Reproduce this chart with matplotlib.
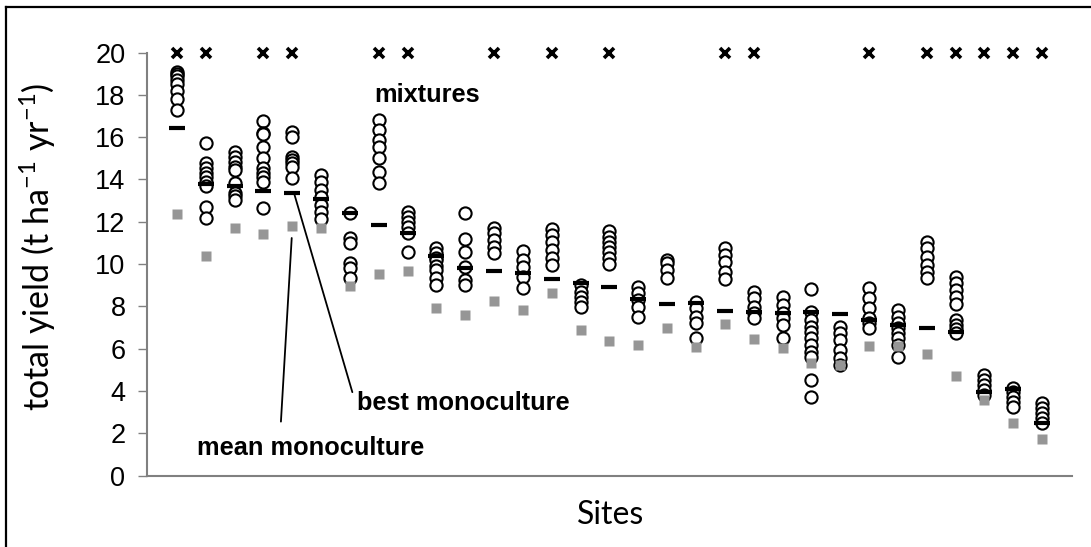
import matplotlib
matplotlib.use("Agg")
import matplotlib.pyplot as plt
from matplotlib.lines import Line2D

# site-level values (t ha-1 yr-1)
best_mono = [16.45, 13.78, 13.70, 13.45, 13.37, 13.07, 12.40, 11.84, 11.45, 10.38,
             9.80, 9.68, 9.59, 9.28, 9.09, 8.93, 8.33, 8.12, 8.15, 7.79,
             7.72, 7.70, 7.75, 7.62, 7.35, 7.12, 6.99, 6.80, 3.96, 4.07, 2.50]
mean_mono = [12.36, 10.38, 11.72, 11.42, 11.80, 11.72, 8.96, 9.53, 9.68, 7.90,
             7.59, 8.25, 7.82, 8.61, 6.88, 6.37, 6.17, 6.96, 6.06, 7.16,
             6.47, 6.03, 5.33, 5.22, 6.14, 6.14, 5.74, 4.72, 3.57, 2.47, 1.73]
mixtures = [
    [19.1, 19.0, 18.9, 18.7, 18.5, 18.2, 17.8, 17.3],
    [15.74, 14.76, 14.52, 14.3, 14.13, 13.89, 13.69, 12.71, 12.16],
    [15.31, 15.07, 14.83, 14.6, 14.44, 13.82, 13.37, 13.23, 13.03],
    [16.78, 16.2, 16.15, 15.55, 15.0, 14.52, 14.3, 14.13, 13.89, 12.63],
    [16.26, 16.02, 15.07, 14.92, 14.76, 14.6, 14.05],
    [14.21, 13.89, 13.5, 13.18, 12.79, 12.47, 12.11],
    [12.40, 11.22, 10.98, 10.03, 9.80, 9.32],
    [16.81, 16.34, 15.86, 15.55, 15.0, 14.36, 13.82],
    [12.47, 12.24, 12.0, 11.76, 11.45, 10.58],
    [10.74, 10.5, 10.3, 10.19, 9.9, 9.72, 9.32, 9.0],
    [12.40, 11.17, 10.58, 9.87, 9.24, 9.0],
    [11.69, 11.45, 11.13, 10.82, 10.5],
    [10.63, 10.19, 9.87, 9.40, 8.85],
    [11.64, 11.37, 11.05, 10.66, 10.27, 9.95],
    [9.0, 8.69, 8.45, 8.22, 7.98],
    [11.55, 11.3, 11.05, 10.8, 10.55, 10.3, 10.0],
    [8.93, 8.61, 8.3, 7.98, 7.51],
    [10.19, 10.03, 9.72, 9.32],
    [8.22, 7.90, 7.51, 7.2, 6.49],
    [10.74, 10.43, 10.11, 9.64, 9.28],
    [8.69, 8.38, 7.98, 7.67, 7.43],
    [8.45, 8.06, 7.67, 7.43, 7.12, 6.49],
    [8.80, 7.74, 7.35, 7.04, 6.80, 6.49, 6.17, 5.85, 5.62, 4.52, 3.73],
    [7.04, 6.72, 6.41, 5.93, 5.54, 5.22],
    [8.85, 8.38, 7.90, 7.43, 7.2, 6.96],
    [7.82, 7.51, 7.2, 6.96, 6.72, 6.49, 6.17, 5.62],
    [11.05, 10.74, 10.35, 9.95, 9.64, 9.32],
    [9.40, 9.09, 8.77, 8.45, 8.11, 7.35, 7.12, 6.91, 6.72],
    [4.75, 4.52, 4.28, 4.04, 3.81],
    [4.12, 3.96, 3.73, 3.49, 3.25],
    [3.44, 3.18, 2.94, 2.70, 2.47],
]
# sites where mixtures differ significantly (marked with x at the top)
signif_sites = [0, 1, 3, 4, 7, 8, 11, 13, 15, 19, 20, 24, 26, 27, 28, 29, 30]
signif_level = 20
yticks = list(range(0, 21, 2))

sites = list(range(len(best_mono)))

plt.rcParams['mathtext.default'] = 'regular'

fig = plt.figure(figsize=(10.91, 5.47), dpi=100)
ax = fig.add_axes([0.1347, 0.1307, 0.8479, 0.7733])

for s, vals in zip(sites, mixtures):
    ax.plot([s] * len(vals), vals, 'o', ms=8.8, mfc='white', mec='black',
            mew=1.5, ls='none', zorder=2)
ax.plot(sites, best_mono, '_', ms=11.5, mew=3, color='black', ls='none', zorder=3)
ax.plot(sites, mean_mono, 's', ms=7.6, color='#969696', mec='none', ls='none', zorder=4)
ax.plot(signif_sites, [signif_level] * len(signif_sites), 'x', ms=6.5, mew=2.6,
        color='black', ls='none', clip_on=False, zorder=5)

ax.set_xlim(-1.04, 31.04)
ax.set_ylim(0, 20)
ax.set_yticks(yticks)
ax.set_xticks([])

for side in ['top', 'right']:
    ax.spines[side].set_visible(False)
for side in ['left', 'bottom']:
    ax.spines[side].set_color('#808080')
    ax.spines[side].set_linewidth(1.5)
ax.tick_params(axis='y', direction='out', length=6.5, width=1, color='#808080',
               pad=9, labelsize=19.5)
for lab in ax.get_yticklabels():
    lab.set_fontfamily('Liberation Sans')

ax.set_ylabel('total yield (t ha$^{-1}$ yr$^{-1}$)', fontsize=24.5, family='Lato')
ax.yaxis.set_label_coords(-0.096, 0.54)
ax.set_xlabel('Sites', fontsize=23, family='Lato', va='center')
ax.xaxis.set_label_coords(0.5016, -0.093)

bold = dict(fontsize=18.3, fontweight='bold', family='Liberation Sans', va='center')
ax.text(6.85, 18.0, 'mixtures', **bold)
ax.annotate('best monoculture', xy=(4.08, 13.26), xytext=(6.23, 3.43),
            arrowprops=dict(arrowstyle='-', color='black', lw=1.3,
                            shrinkA=0, shrinkB=0, relpos=(-0.02, 0.95)), **bold)
ax.annotate('mean monoculture', xy=(3.98, 11.23), xytext=(0.69, 1.3),
            arrowprops=dict(arrowstyle='-', color='black', lw=1.3,
                            shrinkA=0, shrinkB=0, relpos=(0.37, 1.6)), **bold)

# partial frame of the exported picture
fig.add_artist(Line2D([0.0052, 0.0052], [0, 0.9878], color='black', lw=1.6))
fig.add_artist(Line2D([0.0052, 1], [0.9878, 0.9878], color='black', lw=1.6))

fig.savefig('out.png', dpi=100)
